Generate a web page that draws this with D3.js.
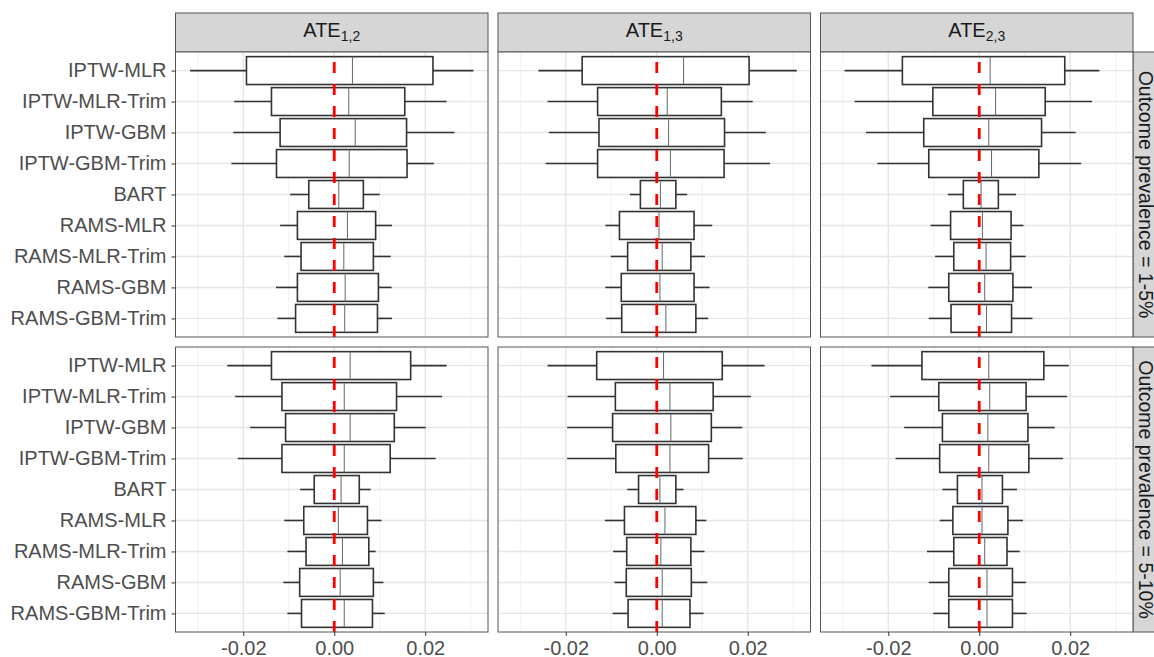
<!DOCTYPE html>
<html>
<head>
<meta charset="utf-8">
<script src="https://cdn.jsdelivr.net/npm/d3@7"></script>
<style>
  body { margin: 0; background: #fff; }
  text { font-family: "Liberation Sans", Arial, sans-serif; }
</style>
</head>
<body>
<svg id="chart" width="1154" height="657"></svg>
<script>
var methods = ["IPTW-MLR", "IPTW-MLR-Trim", "IPTW-GBM", "IPTW-GBM-Trim", "BART",
  "RAMS-MLR", "RAMS-MLR-Trim", "RAMS-GBM", "RAMS-GBM-Trim"];
var contrasts = ["1,2", "1,3", "2,3"];
var prevalences = ["1-5%", "5-10%"];
var majorTicks = [-0.02, 0, 0.02];
var minorTicks = [-0.03, -0.01, 0.01, 0.03];

// [lower whisker, q1, median, q3, upper whisker] for each method
var prev1_ate12 = [
  [-0.0317, -0.0193, 0.0040, 0.0217, 0.0306],
  [-0.0220, -0.0138, 0.0032, 0.0155, 0.0247],
  [-0.0222, -0.0119, 0.0046, 0.0159, 0.0264],
  [-0.0226, -0.0127, 0.0033, 0.0160, 0.0219],
  [-0.0097, -0.0056, 0.0010, 0.0064, 0.0100],
  [-0.0119, -0.0081, 0.0029, 0.0091, 0.0127],
  [-0.0110, -0.0073, 0.0021, 0.0086, 0.0124],
  [-0.0128, -0.0081, 0.0024, 0.0097, 0.0126],
  [-0.0125, -0.0085, 0.0023, 0.0095, 0.0127]
];
var prev1_ate13 = [
  [-0.0260, -0.0164, 0.0059, 0.0203, 0.0308],
  [-0.0240, -0.0130, 0.0023, 0.0142, 0.0211],
  [-0.0237, -0.0127, 0.0026, 0.0149, 0.0240],
  [-0.0244, -0.0130, 0.0030, 0.0148, 0.0249],
  [-0.0059, -0.0036, 0.0008, 0.0042, 0.0067],
  [-0.0113, -0.0082, 0.0005, 0.0082, 0.0122],
  [-0.0101, -0.0064, 0.0012, 0.0075, 0.0106],
  [-0.0113, -0.0078, 0.0007, 0.0082, 0.0116],
  [-0.0111, -0.0077, 0.0020, 0.0086, 0.0113]
];
var prev1_ate23 = [
  [-0.0296, -0.0169, 0.0024, 0.0188, 0.0264],
  [-0.0274, -0.0102, 0.0036, 0.0145, 0.0248],
  [-0.0249, -0.0122, 0.0021, 0.0137, 0.0212],
  [-0.0224, -0.0111, 0.0027, 0.0131, 0.0224],
  [-0.0069, -0.0035, 0.0004, 0.0042, 0.0081],
  [-0.0107, -0.0063, 0.0007, 0.0070, 0.0097],
  [-0.0097, -0.0056, 0.0015, 0.0069, 0.0102],
  [-0.0112, -0.0067, 0.0012, 0.0074, 0.0116],
  [-0.0111, -0.0062, 0.0016, 0.0071, 0.0117]
];
var prev2_ate12 = [
  [-0.0235, -0.0138, 0.0035, 0.0168, 0.0247],
  [-0.0218, -0.0115, 0.0022, 0.0137, 0.0237],
  [-0.0185, -0.0107, 0.0035, 0.0132, 0.0201],
  [-0.0212, -0.0115, 0.0022, 0.0123, 0.0223],
  [-0.0075, -0.0044, 0.0015, 0.0055, 0.0080],
  [-0.0110, -0.0067, 0.0009, 0.0073, 0.0104],
  [-0.0103, -0.0062, 0.0018, 0.0076, 0.0091],
  [-0.0112, -0.0076, 0.0013, 0.0086, 0.0108],
  [-0.0103, -0.0072, 0.0022, 0.0084, 0.0111]
];
var prev2_ate13 = [
  [-0.0240, -0.0132, 0.0015, 0.0144, 0.0237],
  [-0.0196, -0.0091, 0.0029, 0.0124, 0.0207],
  [-0.0197, -0.0097, 0.0031, 0.0120, 0.0188],
  [-0.0197, -0.0090, 0.0029, 0.0114, 0.0189],
  [-0.0065, -0.0040, 0.0007, 0.0042, 0.0059],
  [-0.0114, -0.0071, 0.0018, 0.0086, 0.0109],
  [-0.0096, -0.0066, 0.0009, 0.0075, 0.0105],
  [-0.0093, -0.0067, 0.0012, 0.0076, 0.0111],
  [-0.0097, -0.0063, 0.0012, 0.0073, 0.0103]
];
var prev2_ate23 = [
  [-0.0237, -0.0126, 0.0021, 0.0142, 0.0197],
  [-0.0196, -0.0089, 0.0023, 0.0103, 0.0193],
  [-0.0165, -0.0081, 0.0019, 0.0107, 0.0166],
  [-0.0184, -0.0087, 0.0021, 0.0109, 0.0184],
  [-0.0081, -0.0048, 0.0006, 0.0051, 0.0083],
  [-0.0087, -0.0058, 0.0006, 0.0063, 0.0096],
  [-0.0115, -0.0056, 0.0012, 0.0061, 0.0089],
  [-0.0111, -0.0067, 0.0017, 0.0073, 0.0103],
  [-0.0101, -0.0067, 0.0017, 0.0073, 0.0104]
];

var panels = [
  [prev1_ate12, prev1_ate13, prev1_ate23],
  [prev2_ate12, prev2_ate13, prev2_ate23]
];

var svg = d3.select("#chart");
var panelLeft = 175.5, panelW = 312.5, colGap = 10;
var stripTop = 13, stripH = 39;
var rowTops = [52, 347], panelH = 285;

var x = d3.scaleLinear().domain([-0.0349, 0.0338]).range([0, panelW]);
var y = d3.scalePoint().domain(methods).range([0, panelH]).padding(0.6);
var boxH = y.step() * 0.9;

// top strips
contrasts.forEach(function (c, j) {
  var sx = panelLeft + j * (panelW + colGap);
  svg.append("rect")
    .attr("x", sx).attr("y", stripTop)
    .attr("width", panelW).attr("height", stripH)
    .attr("fill", "#d6d6d6").attr("stroke", "#555").attr("stroke-width", 1);
  var t = svg.append("text")
    .attr("x", sx + panelW / 2).attr("y", 37)
    .attr("text-anchor", "middle")
    .attr("font-size", 20).attr("fill", "#1a1a1a");
  t.append("tspan").text("ATE");
  t.append("tspan").attr("font-size", 14).attr("dy", 4).text(c);
});

// right strips
var rightX = panelLeft + 3 * panelW + 2 * colGap;
prevalences.forEach(function (p, i) {
  svg.append("rect")
    .attr("x", rightX).attr("y", rowTops[i])
    .attr("width", stripH).attr("height", panelH)
    .attr("fill", "#d6d6d6").attr("stroke", "#555").attr("stroke-width", 1);
  svg.append("text")
    .attr("transform", "translate(" + (rightX + 6) + "," + (rowTops[i] + panelH / 2) + ") rotate(90)")
    .attr("text-anchor", "middle")
    .attr("font-size", 19.5).attr("fill", "#1a1a1a")
    .text("Outcome prevalence = " + p);
});

panels.forEach(function (row, i) {
  row.forEach(function (stats, j) {
    var g = svg.append("g")
      .attr("transform", "translate(" + (panelLeft + j * (panelW + colGap)) + "," + rowTops[i] + ")");

    g.append("rect").attr("width", panelW).attr("height", panelH).attr("fill", "#fff");

    // grid
    g.selectAll(".minor").data(minorTicks).enter().append("line")
      .attr("x1", d => x(d)).attr("x2", d => x(d))
      .attr("y1", 0).attr("y2", panelH)
      .attr("stroke", "#ebebeb").attr("stroke-width", 0.7);
    g.selectAll(".major").data(majorTicks).enter().append("line")
      .attr("x1", d => x(d)).attr("x2", d => x(d))
      .attr("y1", 0).attr("y2", panelH)
      .attr("stroke", "#e6e6e6").attr("stroke-width", 1.4);
    g.selectAll(".hgrid").data(methods).enter().append("line")
      .attr("x1", 0).attr("x2", panelW)
      .attr("y1", d => y(d)).attr("y2", d => y(d))
      .attr("stroke", "#e6e6e6").attr("stroke-width", 1.4);

    // boxplots
    var box = g.selectAll(".box").data(stats).enter().append("g");
    box.append("line")
      .attr("x1", d => x(d[0])).attr("x2", d => x(d[1]))
      .attr("y1", (d, k) => y(methods[k])).attr("y2", (d, k) => y(methods[k]))
      .attr("stroke", "#333").attr("stroke-width", 1.6);
    box.append("line")
      .attr("x1", d => x(d[3])).attr("x2", d => x(d[4]))
      .attr("y1", (d, k) => y(methods[k])).attr("y2", (d, k) => y(methods[k]))
      .attr("stroke", "#333").attr("stroke-width", 1.6);
    box.append("rect")
      .attr("x", d => x(d[1])).attr("width", d => x(d[3]) - x(d[1]))
      .attr("y", (d, k) => y(methods[k]) - boxH / 2).attr("height", boxH)
      .attr("fill", "#fff").attr("stroke", "#333").attr("stroke-width", 1.6);
    box.append("line")
      .attr("x1", d => x(d[2])).attr("x2", d => x(d[2]))
      .attr("y1", (d, k) => y(methods[k]) - boxH / 2).attr("y2", (d, k) => y(methods[k]) + boxH / 2)
      .attr("stroke", "#666").attr("stroke-width", 1);

    // reference line at zero
    g.append("line")
      .attr("x1", x(0)).attr("x2", x(0))
      .attr("y1", panelH).attr("y2", 0)
      .attr("stroke", "#ff0000").attr("stroke-width", 2.8)
      .attr("stroke-dasharray", "11,11");

    g.append("rect").attr("width", panelW).attr("height", panelH)
      .attr("fill", "none").attr("stroke", "#555").attr("stroke-width", 1);

    if (j === 0) {
      var ya = g.append("g").call(d3.axisLeft(y).tickSize(4).tickPadding(5));
      ya.select(".domain").remove();
      ya.selectAll("line").attr("stroke", "#333").attr("stroke-width", 1);
      ya.selectAll("text").attr("font-size", 20).attr("fill", "#4d4d4d")
        .attr("font-family", "Liberation Sans, Arial, sans-serif");
    }
    if (i === 1) {
      var xa = g.append("g").attr("transform", "translate(0," + panelH + ")")
        .call(d3.axisBottom(x).tickValues(majorTicks).tickSize(4).tickPadding(5)
          .tickFormat(d => d.toFixed(2)));
      xa.select(".domain").remove();
      xa.selectAll("line").attr("stroke", "#333").attr("stroke-width", 1);
      xa.selectAll("text").attr("font-size", 20).attr("fill", "#4d4d4d")
        .attr("font-family", "Liberation Sans, Arial, sans-serif");
    }
  });
});
</script>
</body>
</html>
